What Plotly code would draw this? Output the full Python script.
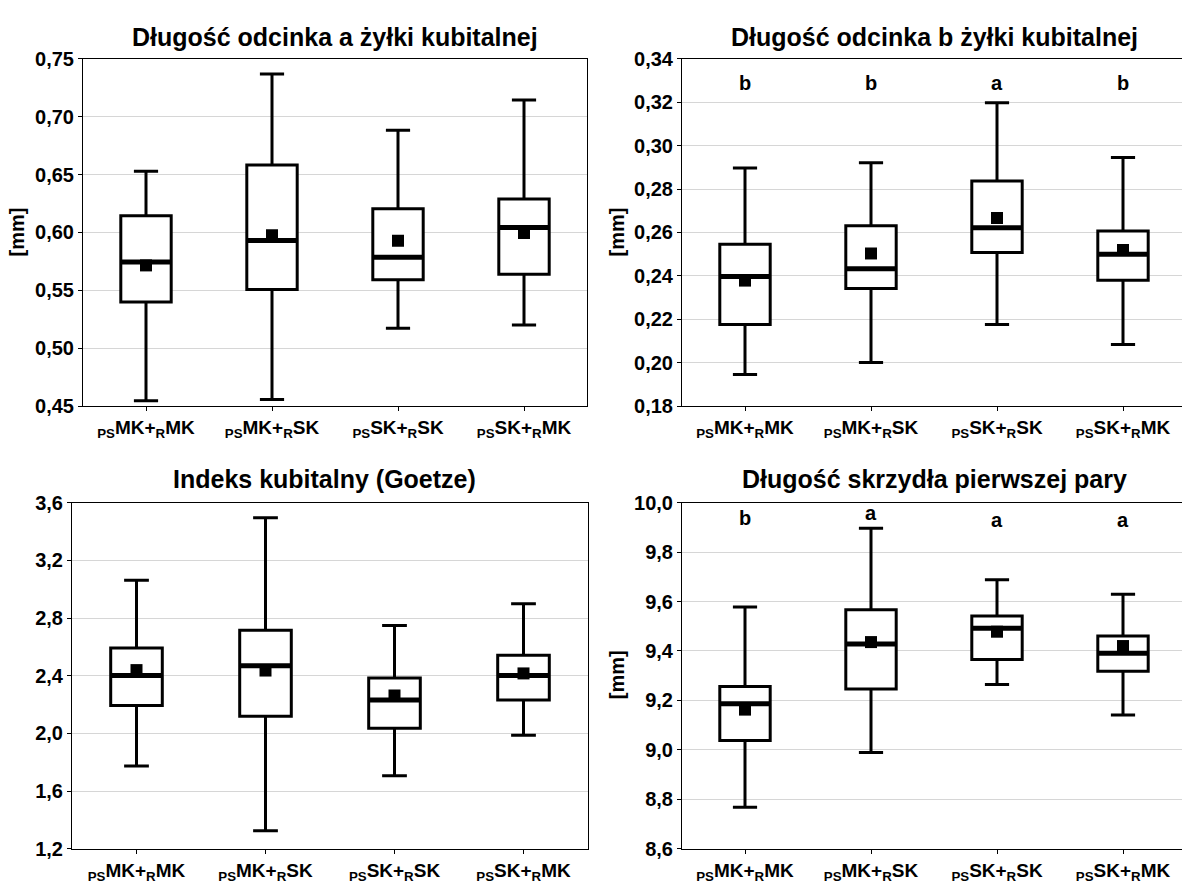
import plotly.graph_objects as go

W, H = 1182, 894

categories = ["<sub>PS</sub>MK+<sub>R</sub>MK", "<sub>PS</sub>MK+<sub>R</sub>SK",
              "<sub>PS</sub>SK+<sub>R</sub>SK", "<sub>PS</sub>SK+<sub>R</sub>MK"]

titles = ["Długość odcinka a żyłki kubitalnej", "Długość odcinka b żyłki kubitalnej",
          "Indeks kubitalny (Goetze)", "Długość skrzydła pierwszej pary"]

# Panel 1: Długość odcinka a
a_low = [0.4545, 0.4556, 0.5172, 0.5200]
a_q1 = [0.5398, 0.5507, 0.5591, 0.5639]
a_med = [0.5745, 0.5930, 0.5785, 0.6042]
a_mean = [0.5715, 0.5975, 0.5927, 0.5994]
a_q3 = [0.6143, 0.6582, 0.6204, 0.6288]
a_high = [0.6529, 0.7368, 0.6882, 0.7145]

# Panel 2: Długość odcinka b
b_low = [0.1945, 0.2000, 0.2176, 0.2084]
b_q1 = [0.2176, 0.2342, 0.2507, 0.2379]
b_med = [0.2397, 0.2433, 0.2622, 0.2499]
b_mean = [0.2378, 0.2503, 0.2666, 0.2519]
b_q3 = [0.2546, 0.2631, 0.2837, 0.2607]
b_high = [0.2897, 0.2921, 0.3197, 0.2945]
b_letters = ["b", "b", "a", "b"]
b_letter_y = [0.3290, 0.3290, 0.3288, 0.3290]

# Panel 3: Indeks kubitalny
c_low = [1.774, 1.326, 1.706, 1.987]
c_q1 = [2.194, 2.119, 2.036, 2.232]
c_med = [2.401, 2.470, 2.232, 2.401]
c_mean = [2.439, 2.436, 2.263, 2.416]
c_q3 = [2.592, 2.715, 2.384, 2.542]
c_high = [3.062, 3.495, 2.748, 2.899]

# Panel 4: Długość skrzydła
d_low = [8.768, 8.990, 9.265, 9.141]
d_q1 = [9.038, 9.246, 9.366, 9.318]
d_med = [9.187, 9.428, 9.492, 9.391]
d_mean = [9.163, 9.436, 9.478, 9.420]
d_q3 = [9.256, 9.567, 9.542, 9.461]
d_high = [9.578, 9.896, 9.688, 9.629]
d_letters = ["b", "a", "a", "a"]
d_letter_y = [9.937, 9.957, 9.929, 9.929]

panels = [
    dict(low=a_low, q1=a_q1, med=a_med, mean=a_mean, q3=a_q3, high=a_high,
         yr=[0.45, 0.75], dt=0.05, fmt=".2f", px=(83, 587), py=(49, 405), xr=[-0.5, 3.5], mirror=True),
    dict(low=b_low, q1=b_q1, med=b_med, mean=b_mean, q3=b_q3, high=b_high,
         yr=[0.18, 0.34], dt=0.02, fmt=".2f", px=(682, 1182), py=(49, 405), xr=[-0.5, -0.5 + 500 / 126], mirror=False),
    dict(low=c_low, q1=c_q1, med=c_med, mean=c_mean, q3=c_q3, high=c_high,
         yr=[1.2, 3.6], dt=0.4, fmt=".1f", px=(72, 588), py=(504, 859), xr=[-0.5, 3.5], mirror=True),
    dict(low=d_low, q1=d_q1, med=d_med, mean=d_mean, q3=d_q3, high=d_high,
         yr=[8.6, 10.0], dt=0.2, fmt=".1f", px=(682, 1182), py=(504, 859), xr=[-0.5, -0.5 + 500 / 126], mirror=False),
]

FONT = "Liberation Sans, Arial, sans-serif"
BOXW = 0.4
xs = list(range(len(categories)))

fig = go.Figure()
layout = dict(width=W, height=H, margin=dict(l=0, r=0, t=0, b=0),
              paper_bgcolor="white", plot_bgcolor="white", showlegend=False,
              separators=", ", font=dict(family=FONT, color="black"))
annotations = []

for k, p in enumerate(panels):
    sfx = "" if k == 0 else str(k + 1)
    xa, ya = "x" + sfx, "y" + sfx
    fig.add_trace(go.Box(
        x=xs, q1=p["q1"], median=p["med"], q3=p["q3"],
        lowerfence=p["low"], upperfence=p["high"],
        width=BOXW, whiskerwidth=0.48, boxpoints=False,
        line=dict(color="black", width=3), fillcolor="white",
        xaxis=xa, yaxis=ya, hoverinfo="skip"))
    mx, my = [], []
    for i, m in enumerate(p["med"]):
        mx += [i - BOXW / 2, i + BOXW / 2, None]
        my += [m, m, None]
    fig.add_trace(go.Scatter(x=mx, y=my, mode="lines", line=dict(color="black", width=5),
                             xaxis=xa, yaxis=ya, hoverinfo="skip"))
    fig.add_trace(go.Scatter(x=xs, y=p["mean"], mode="markers",
                             marker=dict(symbol="square", size=12, color="black"),
                             xaxis=xa, yaxis=ya, hoverinfo="skip"))
    x0, x1 = p["px"]
    y0, y1 = p["py"]
    layout["xaxis" + sfx] = dict(
        domain=[x0 / W, x1 / W], range=p["xr"], anchor=ya,
        tickmode="array", tickvals=xs, ticktext=categories,
        tickfont=dict(size=19, weight="bold", family=FONT),
        showgrid=False, zeroline=False, showline=True, linecolor="black", linewidth=1,
        mirror=True, ticks="outside", ticklen=4, tickcolor="black", tickwidth=1)
    layout["yaxis" + sfx] = dict(
        domain=[1 - y1 / H, 1 - y0 / H], range=p["yr"], anchor=xa,
        tick0=p["yr"][0], dtick=p["dt"], tickformat=p["fmt"],
        tickfont=dict(size=20, weight="bold", family=FONT),
        showgrid=True, gridcolor="#d6d6d6", gridwidth=1, zeroline=False,
        showline=True, linecolor="black", linewidth=1, mirror=p["mirror"],
        ticks="outside", ticklen=4, tickcolor="black", tickwidth=1)
    ty = 27 if k < 2 else 480
    cx = (x0 + 252) / W
    annotations.append(dict(text="<b>%s</b>" % titles[k], xref="paper", yref="paper",
                            x=cx, y=1 - ty / H, xanchor="center", yanchor="middle", showarrow=False,
                            font=dict(size=25, family=FONT, color="black")))

# y-axis titles
for (xc, yc) in [(17, 227), (617, 227), (617, 681)]:
    annotations.append(dict(text="<b>[mm]</b>", xref="paper", yref="paper", x=xc / W, y=1 - yc / H,
                            xanchor="center", yanchor="middle", textangle=-90, showarrow=False,
                            font=dict(size=20, family=FONT, color="black")))

# significance letters
for letters, ly, xa, ya in [(b_letters, b_letter_y, "x2", "y2"), (d_letters, d_letter_y, "x4", "y4")]:
    for i, (t, yv) in enumerate(zip(letters, ly)):
        annotations.append(dict(text="<b>%s</b>" % t, xref=xa, yref=ya, x=i, y=yv,
                                xanchor="center", yanchor="middle", showarrow=False,
                                font=dict(size=20, family=FONT, color="black")))

layout["annotations"] = annotations
fig.update_layout(**layout)
fig.write_html("out.html")
